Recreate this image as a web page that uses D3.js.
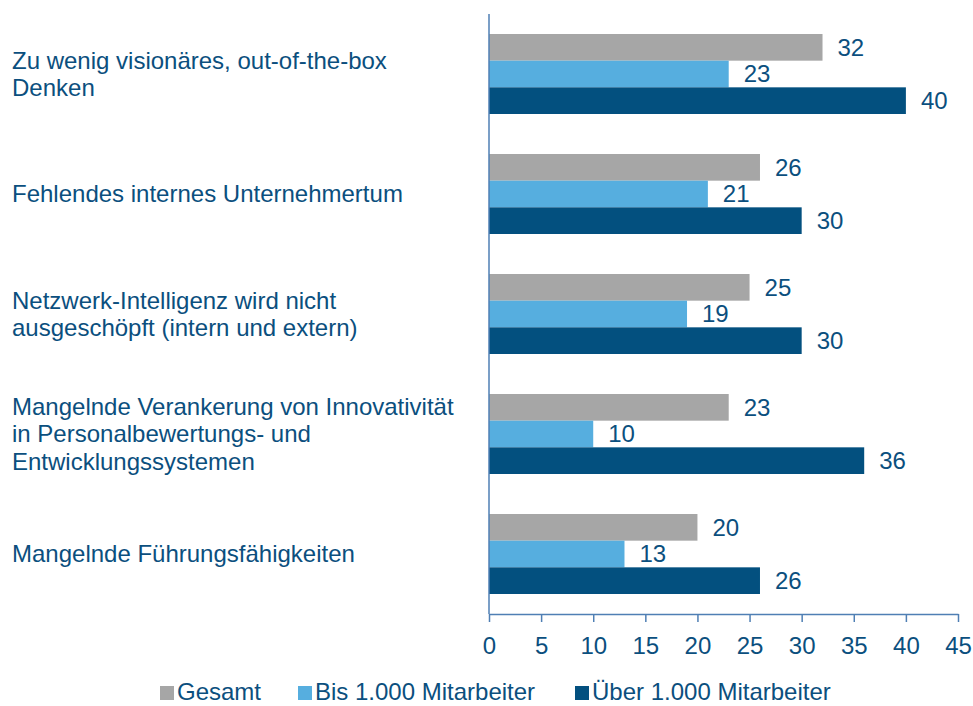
<!DOCTYPE html>
<html>
<head>
<meta charset="utf-8">
<script src="https://cdn.jsdelivr.net/npm/d3@7"></script>
<style>
  body { margin: 0; background: #fff; }
  svg text { font-family: "Liberation Sans", Arial, sans-serif; fill: #0B4F7E; }
</style>
</head>
<body>
<svg id="chart" width="973" height="706"></svg>
<script>
const categories = [
    ['Zu wenig visionäres, out-of-the-box', 'Denken'],
    ['Fehlendes internes Unternehmertum'],
    ['Netzwerk-Intelligenz wird nicht', 'ausgeschöpft (intern und extern)'],
    ['Mangelnde Verankerung von Innovativität', 'in Personalbewertungs- und', 'Entwicklungssystemen'],
    ['Mangelnde Führungsfähigkeiten']
];
const seriesNames = ['Gesamt', 'Bis 1.000 Mitarbeiter', 'Über 1.000 Mitarbeiter'];
const gesamt = [32, 26, 25, 23, 20];
const bis1000 = [23, 21, 19, 10, 13];
const ueber1000 = [40, 30, 30, 36, 26];
const xTicks = [0, 5, 10, 15, 20, 25, 30, 35, 40, 45];
const colors = ['#A6A6A6', '#56AEDF', '#03507F'];

const series = [gesamt, bis1000, ueber1000];
const data = categories.map((c, i) => ({ idx: i, lines: c, values: series.map(s => s[i]) }));

const svg = d3.select('#chart');
const margin = { top: 14, right: 15, bottom: 92, left: 489 };
const width = +svg.attr('width') - margin.left - margin.right;
const height = +svg.attr('height') - margin.top - margin.bottom;
const g = svg.append('g').attr('transform', `translate(${margin.left},${margin.top})`);

const x = d3.scaleLinear().domain([0, 45]).range([0, 469]);
const y = d3.scaleBand().domain(data.map(d => d.idx)).range([0, height]).paddingInner(0).paddingOuter(0);
const inner = d3.scaleBand().domain([0, 1, 2]).range([20, y.bandwidth() - 20]);

// Balken
const groups = g.selectAll('.grp')
    .data(data)
    .enter().append('g')
    .attr('class', 'grp')
    .attr('transform', d => `translate(0,${y(d.idx)})`);

groups.selectAll('rect')
    .data(d => d.values.map((v, k) => ({ v, k })))
    .enter().append('rect')
    .attr('x', 0)
    .attr('y', d => inner(d.k))
    .attr('width', d => x(d.v))
    .attr('height', inner.bandwidth())
    .attr('fill', d => colors[d.k]);

groups.selectAll('.val')
    .data(d => d.values.map((v, k) => ({ v, k })))
    .enter().append('text')
    .attr('class', 'val')
    .attr('x', d => x(d.v) + 15)
    .attr('y', d => inner(d.k) + inner.bandwidth() / 2)
    .attr('dy', '0.35em')
    .style('font-size', '24px')
    .text(d => d.v);

// Kategorien links
groups.append('text')
    .attr('x', 12 - margin.left)
    .attr('y', d => y.bandwidth() / 2 - (d.lines.length - 1) * 27.5 / 2)
    .style('font-size', '24px')
    .selectAll('tspan')
    .data(d => d.lines)
    .enter().append('tspan')
    .attr('x', 12 - margin.left)
    .attr('dy', (d, i) => i === 0 ? '0.35em' : '27.5')
    .text(d => d);

// X-Achse
const xAxis = g.append('g')
    .attr('transform', `translate(0,${height})`)
    .call(d3.axisBottom(x).tickValues(xTicks).tickSize(8).tickPadding(15).tickSizeOuter(0));
xAxis.select('.domain').attr('stroke', '#4F7FB4').attr('stroke-width', 1.5);
xAxis.selectAll('.tick line').attr('stroke', '#4F7FB4').attr('stroke-width', 1.5);
xAxis.selectAll('.tick text')
    .style('font-size', '24px')
    .style('font-family', '"Liberation Sans", Arial, sans-serif')
    .attr('fill', '#0B4F7E');

// Y-Achse
g.append('line')
    .attr('x1', 0).attr('x2', 0)
    .attr('y1', 0).attr('y2', height)
    .attr('stroke', '#4F7FB4')
    .attr('stroke-width', 1.5);

// Legende
const legendX = [160, 298, 575];
const legend = svg.append('g').attr('transform', 'translate(0,692)');
const items = legend.selectAll('g')
    .data(seriesNames)
    .enter().append('g')
    .attr('transform', (d, i) => `translate(${legendX[i]},0)`);
items.append('rect')
    .attr('x', 0).attr('y', -6)
    .attr('width', 14).attr('height', 14)
    .attr('fill', (d, i) => colors[i]);
items.append('text')
    .attr('x', 17)
    .attr('dy', '0.35em')
    .style('font-size', '24px')
    .text(d => d);
</script>
</body>
</html>
